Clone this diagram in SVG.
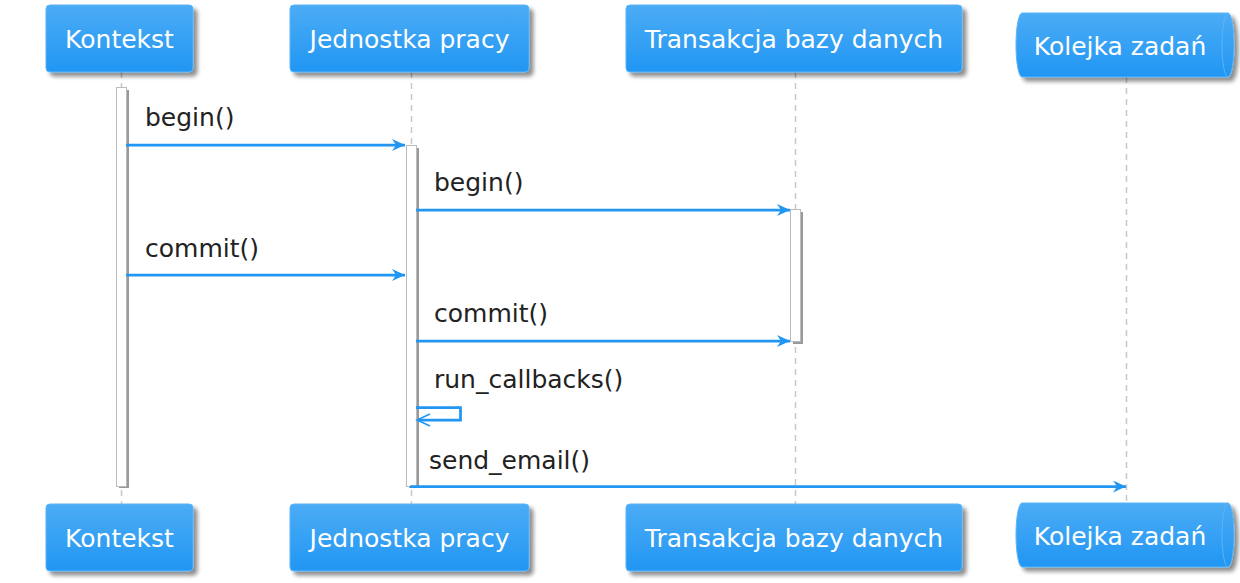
<svg xmlns="http://www.w3.org/2000/svg" width="1240" height="583" viewBox="0 0 1240 583">
<defs>
<linearGradient id="g" x1="0" y1="0" x2="0" y2="1">
<stop offset="0" stop-color="#4BACF5"/>
<stop offset="1" stop-color="#2196F3"/>
</linearGradient>
<filter id="sh" x="-10%" y="-10%" width="130%" height="140%">
<feGaussianBlur in="SourceAlpha" stdDeviation="2"/>
<feOffset dx="4" dy="4" result="b"/>
<feComponentTransfer><feFuncA type="linear" slope="0.45"/></feComponentTransfer>
<feMerge><feMergeNode/><feMergeNode in="SourceGraphic"/></feMerge>
</filter>
<marker id="ah" markerWidth="14" markerHeight="12" refX="13" refY="6" orient="auto" markerUnits="userSpaceOnUse">
<path d="M0,0 L13,6 L0,12 L4,6 Z" fill="#2196F3"/>
</marker>
<style>
.box{fill:url(#g);stroke:#5CB4F6;stroke-width:1;filter:url(#sh)}
.pt{font-family:"DejaVu Sans",Verdana,sans-serif;font-size:25px;fill:#FFFFFF;text-anchor:middle}
.mt{font-family:"DejaVu Sans",Verdana,sans-serif;font-size:25px;fill:#222222}
.life{stroke:#C8C8C8;stroke-width:1.5;stroke-dasharray:6,5;fill:none}
.act{fill:#FFFFFF;stroke:#BBBBBB;stroke-width:1}
.actsh{fill:#999999}
.msg{stroke:#2196F3;stroke-width:2.75;fill:none}
</style>
</defs>
<rect width="1240" height="583" fill="#FFFFFF"/>
<g id="lifelines">
<line class="life" x1="121.5" y1="72" x2="121.5" y2="504"/>
<line class="life" x1="411.5" y1="72" x2="411.5" y2="504"/>
<line class="life" x1="795.5" y1="72" x2="795.5" y2="504"/>
<line class="life" x1="1126.5" y1="77" x2="1126.5" y2="503"/>
</g>
<g id="activations">
<rect class="actsh" x="119" y="90" width="10" height="398"/>
<rect class="act" x="116.5" y="87.5" width="10" height="399"/>
<rect class="actsh" x="409" y="148" width="10" height="340"/>
<rect class="act" x="406.5" y="145.5" width="10" height="341"/>
<rect class="actsh" x="793" y="212" width="10" height="132"/>
<rect class="act" x="790.5" y="209.5" width="10" height="132"/>
</g>
<g id="participant-kontekst">
<rect class="box" x="46" y="5" width="147" height="67" rx="4"/>
<text class="pt" x="119.5" y="48">Kontekst</text>
<rect class="box" x="46" y="504" width="147" height="67" rx="4"/>
<text class="pt" x="119.5" y="547">Kontekst</text>
</g>
<g id="participant-jednostka">
<rect class="box" x="290" y="5" width="239" height="67" rx="4"/>
<text class="pt" x="409.5" y="48">Jednostka pracy</text>
<rect class="box" x="290" y="504" width="239" height="67" rx="4"/>
<text class="pt" x="409.5" y="547">Jednostka pracy</text>
</g>
<g id="participant-transakcja">
<rect class="box" x="626" y="5" width="336" height="67" rx="4"/>
<text class="pt" x="794" y="48">Transakcja bazy danych</text>
<rect class="box" x="626" y="504" width="336" height="67" rx="4"/>
<text class="pt" x="794" y="547">Transakcja bazy danych</text>
</g>
<g id="participant-kolejka">
<path class="box" d="M1022,13 H1228 A6,32 0 0 1 1228,77 H1022 A6,32 0 0 1 1022,13 Z"/>
<path d="M1228,13 A6,32 0 0 0 1228,77" fill="none" stroke="#5CB4F6" stroke-width="1"/>
<text class="pt" x="1120" y="55">Kolejka zadań</text>
<path class="box" d="M1022,503 H1228 A6,32 0 0 1 1228,567 H1022 A6,32 0 0 1 1022,503 Z"/>
<path d="M1228,503 A6,32 0 0 0 1228,567" fill="none" stroke="#5CB4F6" stroke-width="1"/>
<text class="pt" x="1120" y="545">Kolejka zadań</text>
</g>
<g id="connectors">
<line class="msg" x1="126" y1="145" x2="405" y2="145" marker-end="url(#ah)"/>
<line class="msg" x1="416" y1="210" x2="790" y2="210" marker-end="url(#ah)"/>
<line class="msg" x1="126" y1="275" x2="405" y2="275" marker-end="url(#ah)"/>
<line class="msg" x1="416" y1="341" x2="790" y2="341" marker-end="url(#ah)"/>
<polyline class="msg" points="416,407.5 460.5,407.5 460.5,420 418,420"/>
<path d="M430,414 L417,420 L430,426" fill="none" stroke="#2196F3" stroke-width="1.5"/>
<line class="msg" x1="410" y1="486.5" x2="1126" y2="486.5" marker-end="url(#ah)"/>
</g>
<g id="labels">
<text class="mt" x="145" y="126">begin()</text>
<text class="mt" x="434" y="191">begin()</text>
<text class="mt" x="145" y="257">commit()</text>
<text class="mt" x="434" y="322">commit()</text>
<text class="mt" x="434" y="388">run_callbacks()</text>
<text class="mt" x="429" y="469">send_email()</text>
</g>
</svg>
